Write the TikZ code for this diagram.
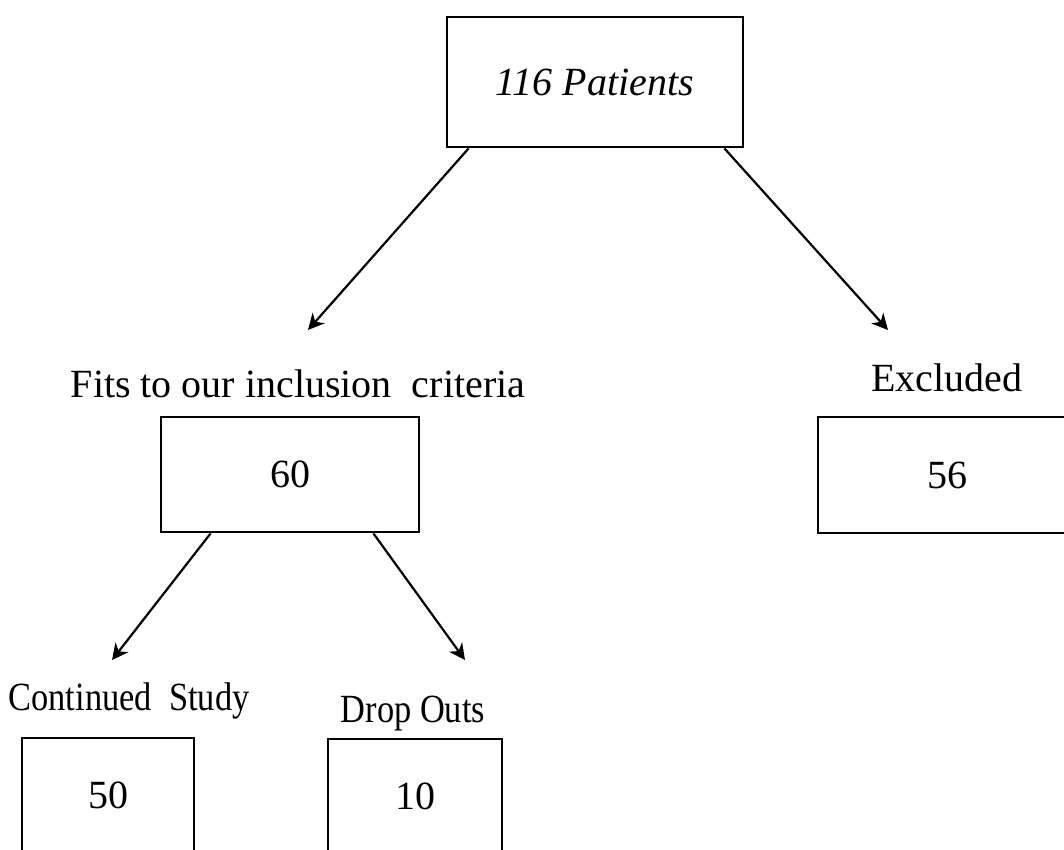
\documentclass[tikz,border=0pt]{standalone}
\usepackage{fontspec}
\setmainfont{Liberation Serif}
\usetikzlibrary{arrows.meta}
\tikzset{
	box/.style={draw, line width=1.4pt, inner sep=0pt},
	arr/.style={line width=1.1pt, -{Stealth[length=8pt, width=8pt, inset=2.5pt]}}
}
\begin{document}
\begin{tikzpicture}[x=.5pt, y=-.5pt, font=\fontsize{20}{24}\selectfont]
\clip (0,0) rectangle (1064,850);
%boxes
\node[box, minimum width=148pt, minimum height=65pt] (pat) at (595,82) {\itshape 116 Patients};
\node[box, minimum width=129pt, minimum height=57.5pt] (incl) at (290,474.5) {60};
\node[box, minimum width=129pt, minimum height=58pt] (excl) at (947,475) {56};
\node[box, minimum width=86pt, minimum height=57.5pt] (cont) at (108,795.5) {50};
\node[box, minimum width=87pt, minimum height=57.5pt] (drop) at (415,796.5) {10};
%labels
\node (incl label) at (298,384) {Fits to our inclusion\ \ criteria};
\node (excl label) at (947,378) {Excluded};
\node (cont label) at (129,701) {\scalebox{.86}[1]{Continued\ \ Study}};
\node (drop label) at (413,714) {\scalebox{.86}[1]{Drop Outs}};
%arrow ends
\coordinate (incl end) at (308,330);
\coordinate (excl end) at (888,330);
\coordinate (cont end) at (112,660);
\coordinate (drop end) at (465,660);
%arrows
\draw[arr] ([xshift=11.5pt]pat.south west) -- (incl end);
\draw[arr] ([xshift=-10pt]pat.south east) -- (excl end);
\draw[arr] ([xshift=25.5pt]incl.south west) -- (cont end);
\draw[arr] ([xshift=-23.5pt]incl.south east) -- (drop end);
\end{tikzpicture}
\end{document}
